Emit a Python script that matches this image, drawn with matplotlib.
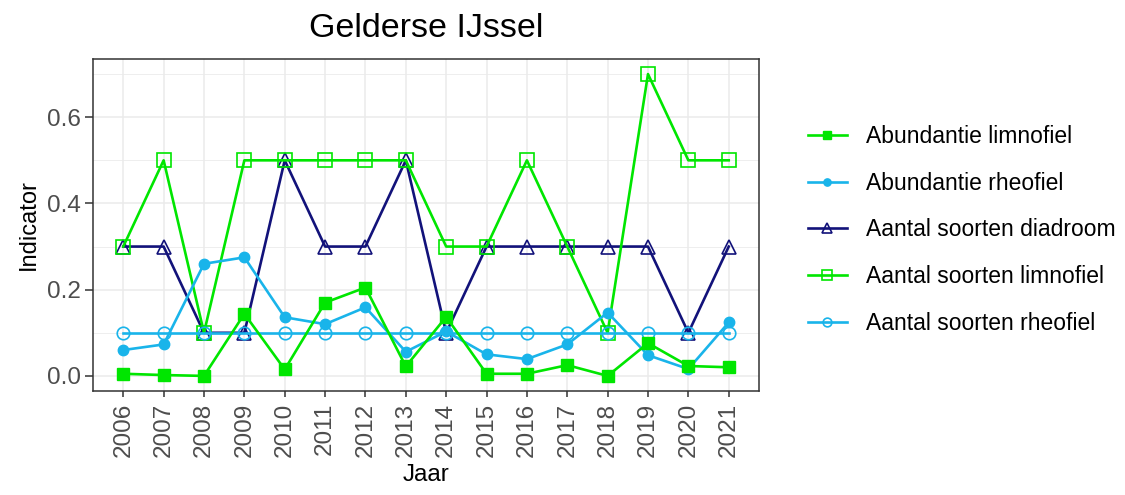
import numpy as np
import matplotlib
matplotlib.use("Agg")
import matplotlib.pyplot as plt
from matplotlib.ticker import FixedLocator

plt.rcParams["font.family"] = ["Liberation Sans", "DejaVu Sans"]

# ---------- Data ----------
years = list(range(2006, 2022))
abund_limno = [0.005, 0.002, 0.0, 0.144, 0.015, 0.170, 0.205, 0.022,
               0.137, 0.005, 0.005, 0.025, 0.0, 0.076, 0.023, 0.020]
abund_rheo = [0.060, 0.073, 0.260, 0.275, 0.136, 0.120, 0.159, 0.056,
              0.103, 0.050, 0.039, 0.073, 0.147, 0.048, 0.016, 0.124]
soort_diadroom = [0.3, 0.3, 0.1, 0.1, 0.5, 0.3, 0.3, 0.5,
                  0.1, 0.3, 0.3, 0.3, 0.3, 0.3, 0.1, 0.3]
soort_limno = [0.3, 0.5, 0.1, 0.5, 0.5, 0.5, 0.5, 0.5,
               0.3, 0.3, 0.5, 0.3, 0.1, 0.7, 0.5, 0.5]
soort_rheo = [0.1] * 16

labels = ["Abundantie limnofiel", "Abundantie rheofiel",
          "Aantal soorten diadroom", "Aantal soorten limnofiel",
          "Aantal soorten rheofiel"]

GREEN = "#00E600"
BLUE = "#19B4EA"
NAVY = "#12127A"

# ---------- Figure ----------
fig = plt.figure(figsize=(11.25, 4.95), dpi=100)
ax = fig.add_axes([93 / 1125, 1 - 391 / 495, (759 - 93) / 1125, (391 - 59) / 495])

lw = 1.9
h1, = ax.plot(years, abund_limno, color=GREEN, lw=lw, marker="s", ms=8.5,
              mfc=GREEN, mec=GREEN, zorder=6, label=labels[0])
h2, = ax.plot(years, abund_rheo, color=BLUE, lw=lw, marker="o", ms=7.5,
              mfc=BLUE, mec=BLUE, zorder=5, label=labels[1])
h3, = ax.plot(years, soort_diadroom, color=NAVY, lw=lw, marker="^", ms=10,
              mfc="none", mec=NAVY, mew=1.2, zorder=3, label=labels[2])
h4, = ax.plot(years, soort_limno, color=GREEN, lw=lw, marker="s", ms=10,
              mfc="none", mec=GREEN, mew=1.2, zorder=4, label=labels[3])
h5, = ax.plot(years, soort_rheo, color=BLUE, lw=lw, marker="o", ms=9,
              mfc="none", mec=BLUE, mew=1.2, zorder=4.5, label=labels[4])

ax.set_xlim(2005.25, 2021.75)
ax.set_ylim(-0.035, 0.735)
ax.set_xticks(years)
ax.set_xticklabels([str(y) for y in years], rotation=90)
ax.set_yticks([0.0, 0.2, 0.4, 0.6])
ax.set_yticklabels(["0.0", "0.2", "0.4", "0.6"])
ax.yaxis.set_minor_locator(FixedLocator([0.1, 0.3, 0.5, 0.7]))
ax.tick_params(axis="y", which="minor", length=0)

ax.grid(True, which="major", color="#EBEBEB", lw=1.1, zorder=0)
ax.grid(True, which="minor", axis="y", color="#EBEBEB", lw=0.6, zorder=0)
ax.set_axisbelow(True)

for sp in ax.spines.values():
    sp.set_color("#333333")
    sp.set_linewidth(1.1)
ax.tick_params(axis="both", which="major", colors="#333333", width=1.1,
               labelsize=17.5, labelcolor="#4D4D4D")
ax.tick_params(axis="x", which="major", length=4.3, pad=4)
ax.tick_params(axis="y", which="major", length=5.8, pad=3)

ax.set_xlabel("Jaar", fontsize=17.5, labelpad=5)
ax.set_ylabel("Indicator", fontsize=17, labelpad=5)
ax.set_title("Gelderse IJssel", fontsize=24.5, pad=16)

fig.legend(handles=[h1, h2, h3, h4, h5], loc="center left",
           bbox_to_anchor=(787 / 1125, 1 - 230 / 495), frameon=False,
           fontsize=16.5, handlelength=1.7, labelspacing=1.03,
           handletextpad=0.85, markerscale=0.7)

fig.savefig("out.png", dpi=100)
